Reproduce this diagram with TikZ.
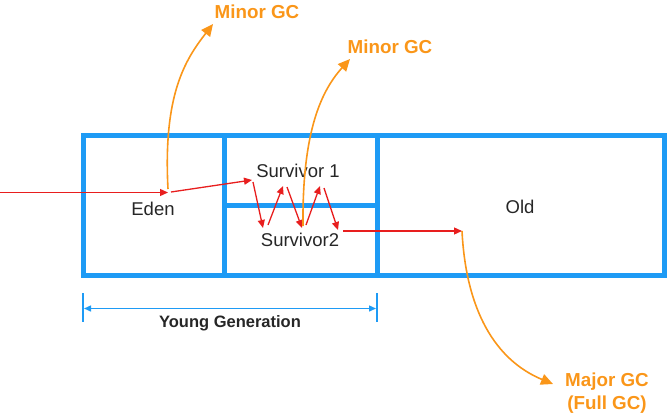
\documentclass[tikz,border=0pt]{standalone}
\usepackage{fontspec}
\setmainfont{Liberation Sans}
\usetikzlibrary{arrows.meta}
\definecolor{jblue}{RGB}{30,155,245}
\definecolor{jorange}{RGB}{250,150,25}
\definecolor{jred}{RGB}{232,30,30}
\begin{document}
\begin{tikzpicture}[x=1pt,y=-1pt,
  wall/.style={draw=jblue, line width=5pt},
  lbl/.style={font=\fontsize{18.5}{20}\selectfont, text=black!85, inner sep=0pt},
  gclbl/.style={font=\bfseries\fontsize{18.8}{23}\selectfont, text=jorange, inner sep=0pt, align=center},
  redarrow/.style={draw=jred, line width=1.3pt, -{Triangle[length=8pt,width=7pt]}},
  gcarrow/.style={draw=jorange, line width=1.6pt, -{Triangle[length=12pt,width=11pt]}},
  dimline/.style={draw=jblue, line width=1.4pt}]
\useasboundingbox (0,0) rectangle (667,418);
% memory regions
\draw[wall] (83,135) rectangle (664,275);
\draw[wall] (224.5,135) -- (224.5,275);
\draw[wall] (377.5,135) -- (377.5,275);
\draw[wall] (224.5,205) -- (377.5,205);
% labels
\node[lbl] (eden) at (153,209) {Eden};
\node[lbl] (s1) at (298,171) {Survivor 1};
\node[lbl] (s2) at (300,240) {Survivor2};
\node[lbl] (old) at (520,207) {Old};
\node[gclbl] (gc1) at (257,12) {Minor GC};
\node[gclbl] (gc2) at (390,47) {Minor GC};
\node[gclbl] (gc3) at (607,393) {Major GC\\(Full GC)};
% red flow points
\coordinate (in) at (0,192.5);
\coordinate (e1) at (168,192.5);
\coordinate (e2) at (171,192);
\coordinate (z0) at (252,180);
\coordinate (z0b) at (253,182);
\coordinate (z1) at (263,228);
\coordinate (z1b) at (268,225);
\coordinate (z2) at (283,186);
\coordinate (z2b) at (287,187);
\coordinate (z3) at (302,228);
\coordinate (z3b) at (306,225);
\coordinate (z4) at (320,186);
\coordinate (z4b) at (324,188);
\coordinate (z5) at (338,230);
\coordinate (z5b) at (343,231);
\coordinate (o1) at (462,231);
\draw[redarrow] (in) -- (e1);
\draw[redarrow] (e2) -- (z0);
\draw[redarrow] (z0b) -- (z1);
\draw[redarrow] (z1b) -- (z2);
\draw[redarrow] (z2b) -- (z3);
\draw[redarrow] (z3b) -- (z4);
\draw[redarrow] (z4b) -- (z5);
\draw[redarrow] (z5b) -- (o1);
% GC arrows
\coordinate (t1) at (213,24);
\coordinate (t2) at (350,59);
\coordinate (t3) at (553,384);
\draw[gcarrow] (168,189) .. controls (163,95) and (185,60) .. (t1);
\draw[gcarrow] (303,226) .. controls (302,130) and (322,90) .. (t2);
\draw[gcarrow] (o1) .. controls (466,310) and (495,360) .. (t3);
% young generation dimension
\coordinate (ya) at (83,293);
\coordinate (yb) at (83,322);
\coordinate (yc) at (377,293);
\coordinate (yd) at (377,322);
\draw[dimline] (ya) -- (yb);
\draw[dimline] (yc) -- (yd);
\draw[dimline, {Triangle[length=7pt,width=6pt]}-{Triangle[length=7pt,width=6pt]}] (84,308.5) -- (376,308.5);
\node[font=\bfseries\fontsize{16.5}{18}\selectfont, text=black!85, inner sep=0pt] (yg) at (230,323) {Young Generation};
\end{tikzpicture}
\end{document}
